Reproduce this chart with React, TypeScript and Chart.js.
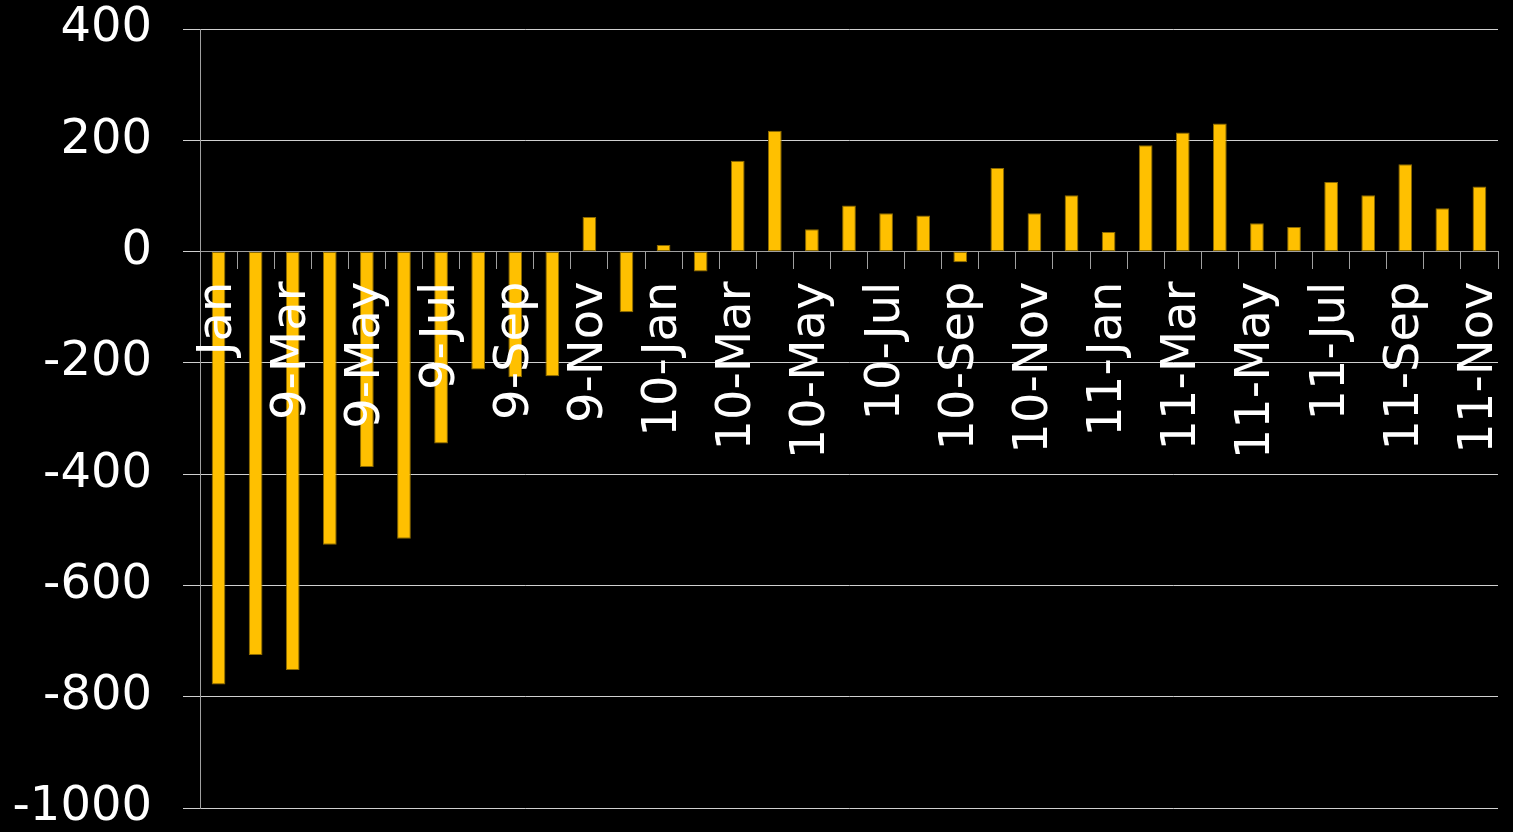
import React, { useEffect, useRef } from 'react';
import { Chart, registerables } from 'chart.js';

Chart.register(...registerables);

const categories = [
  'Jan', '9-Feb', '9-Mar', '9-Apr', '9-May', '9-Jun', '9-Jul', '9-Aug', '9-Sep', '9-Oct', '9-Nov', '9-Dec',
  '10-Jan', '10-Feb', '10-Mar', '10-Apr', '10-May', '10-Jun', '10-Jul', '10-Aug', '10-Sep', '10-Oct', '10-Nov', '10-Dec',
  '11-Jan', '11-Feb', '11-Mar', '11-Apr', '11-May', '11-Jun', '11-Jul', '11-Aug', '11-Sep', '11-Oct', '11-Nov',
];

const values = [
  -778, -725, -752, -527, -387, -516, -345, -212, -226, -224, 62, -109,
  12, -36, 163, 217, 40, 83, 69, 65, -19, 150, 69, 101,
  35, 191, 214, 230, 51, 44, 125, 101, 157, 78, 117,
];

const yMin = -1000;
const yMax = 400;
const yStep = 200;

export default function App() {
  const canvasRef = useRef<HTMLCanvasElement | null>(null);

  useEffect(() => {
    const canvas = canvasRef.current;
    if (!canvas) return;
    const font = { family: '"DejaVu Sans", Verdana, sans-serif', size: 48 };
    const chart = new Chart(canvas, {
      type: 'bar',
      data: {
        labels: categories,
        datasets: [
          {
            data: values,
            backgroundColor: '#FFC000',
            borderColor: '#8c6a00',
            borderWidth: 1,
            borderSkipped: false,
            barPercentage: 0.37,
            categoryPercentage: 1,
          },
        ],
      },
      options: {
        animation: false,
        responsive: false,
        maintainAspectRatio: false,
        layout: { padding: { top: 29, bottom: 24, right: 15, left: 0 } },
        plugins: {
          legend: { display: false },
          tooltip: { enabled: false },
        },
        scales: {
          x: {
            position: { y: 0 } as any,
            offset: true,
            grid: {
              offset: true,
              drawOnChartArea: false,
              drawTicks: true,
              tickLength: 17,
              color: '#a0a0a0',
              lineWidth: 1,
            },
            border: { display: true, color: '#a0a0a0', width: 1 },
            ticks: {
              z: 1,
              color: '#ffffff',
              font,
              padding: 13,
              minRotation: 90,
              maxRotation: 90,
              autoSkip: false,
              callback: (_v: any, i: number) => (i % 2 === 0 ? categories[i] : ''),
            },
            afterFit: (s: any) => {
              s.paddingLeft = 0;
              s.paddingRight = 0;
              s.paddingTop = 0;
              s.paddingBottom = 0;
            },
          },
          y: {
            min: yMin,
            max: yMax,
            grid: {
              color: '#d0d0d0',
              lineWidth: 1,
              drawTicks: true,
              tickLength: 17,
            },
            border: { display: true, color: '#a0a0a0', width: 1 },
            ticks: {
              stepSize: yStep,
              color: '#ffffff',
              font,
              padding: 31,
              callback: (v: any) => String(v),
            },
            afterFit: (s: any) => {
              s.width = 200;
              s.paddingTop = 0;
              s.paddingBottom = 0;
              s.paddingLeft = 0;
              s.paddingRight = 0;
            },
          },
        },
      },
    });
    return () => chart.destroy();
  }, []);

  return (
    <div style={{ position: 'fixed', left: 0, top: 0, width: 1513, height: 832, background: '#000' }}>
      <canvas ref={canvasRef} width={1513} height={832} style={{ display: 'block' }} />
    </div>
  );
}
